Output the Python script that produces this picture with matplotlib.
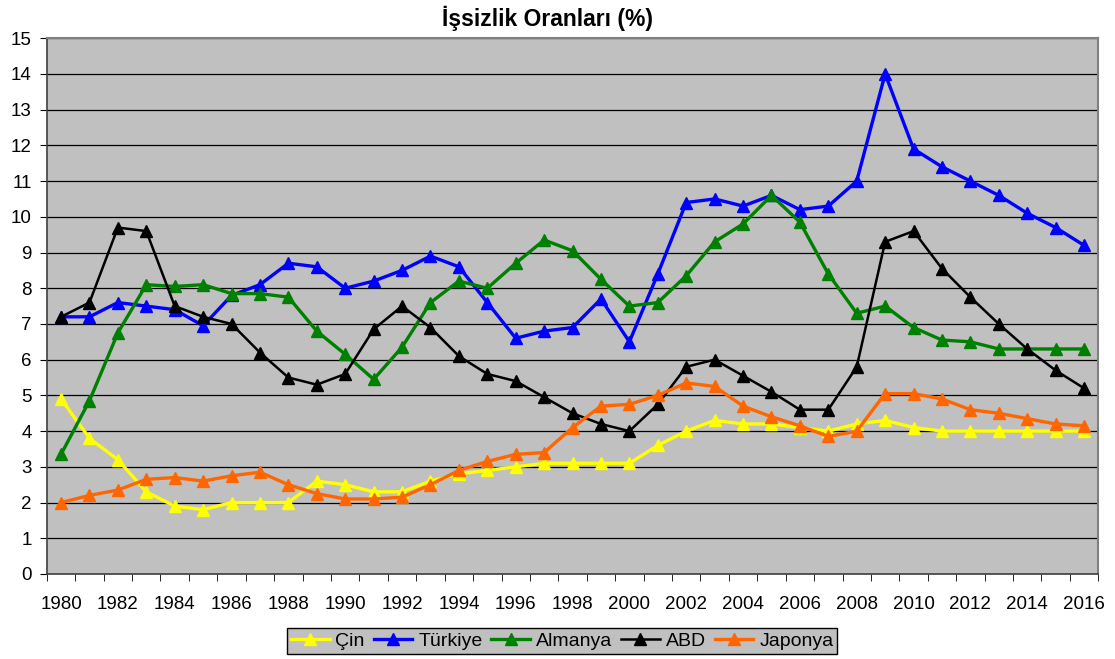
import numpy as np
import matplotlib.pyplot as plt

# ---------------- data ----------------
years = list(range(1980, 2017))

cin = [4.9, 3.8, 3.2, 2.3, 1.9, 1.8, 2.0, 2.0, 2.0, 2.6, 2.5, 2.3, 2.3, 2.6, 2.8,
       2.9, 3.0, 3.1, 3.1, 3.1, 3.1, 3.6, 4.0, 4.3, 4.2, 4.2, 4.1, 4.0, 4.2, 4.3,
       4.1, 4.0, 4.0, 4.0, 4.0, 4.0, 4.0]
turkiye = [7.2, 7.2, 7.6, 7.5, 7.4, 6.95, 7.8, 8.1, 8.7, 8.6, 8.0, 8.2, 8.5, 8.9, 8.6,
           7.6, 6.6, 6.8, 6.9, 7.7, 6.5, 8.4, 10.4, 10.5, 10.3, 10.6, 10.2, 10.3, 11.0,
           14.0, 11.9, 11.4, 11.0, 10.6, 10.1, 9.7, 9.2]
almanya = [3.35, 4.85, 6.75, 8.1, 8.05, 8.1, 7.85, 7.85, 7.75, 6.8, 6.15, 5.45, 6.35,
           7.6, 8.2, 8.0, 8.7, 9.35, 9.05, 8.25, 7.5, 7.6, 8.35, 9.3, 9.8, 10.6, 9.85,
           8.4, 7.3, 7.5, 6.9, 6.55, 6.5, 6.3, 6.3, 6.3, 6.3]
abd = [7.2, 7.6, 9.7, 9.6, 7.5, 7.2, 7.0, 6.2, 5.5, 5.3, 5.6, 6.85, 7.5, 6.9, 6.1,
       5.6, 5.4, 4.95, 4.5, 4.2, 4.0, 4.75, 5.8, 6.0, 5.55, 5.1, 4.6, 4.6, 5.8, 9.3,
       9.6, 8.55, 7.75, 7.0, 6.3, 5.7, 5.2]
japonya = [2.0, 2.2, 2.35, 2.65, 2.7, 2.6, 2.75, 2.85, 2.5, 2.25, 2.1, 2.1, 2.15, 2.5,
           2.9, 3.15, 3.35, 3.4, 4.1, 4.7, 4.75, 5.0, 5.35, 5.25, 4.7, 4.4, 4.15, 3.85,
           4.0, 5.05, 5.05, 4.9, 4.6, 4.5, 4.35, 4.2, 4.15]

series = [("Çin", cin, "#FFFF00", 2.4),
          ("Türkiye", turkiye, "#0000FF", 2.4),
          ("Almanya", almanya, "#008000", 2.4),
          ("ABD", abd, "#000000", 1.8),
          ("Japonya", japonya, "#FF6600", 2.4)]

plt.rcParams['font.family'] = ['Liberation Sans', 'DejaVu Sans']

fig = plt.figure(figsize=(11.15, 6.59), dpi=100)
ax = fig.add_axes([0.042, 0.129, 0.943, 0.813])
ax.set_facecolor("#C0C0C0")

for name, vals, col, lw in series:
    ax.plot(years, vals, color=col, lw=lw, marker="^", markersize=9,
            markeredgecolor=col, label=name, zorder=3)

ax.set_xlim(1979.5, 2016.5)
ax.set_ylim(0, 15)
ax.set_yticks(range(0, 16))
ax.yaxis.grid(True, color="black", lw=0.9, zorder=0)
ax.set_axisbelow(True)

# ticks between categories, labels every other year
ax.set_xticks(years[::2])
ax.set_xticks(np.arange(1979.5, 2017, 1), minor=True)
ax.tick_params(axis="x", which="major", length=0, labelsize=13.5, pad=16)
ax.tick_params(axis="x", which="minor", length=5, direction="out")
ax.tick_params(axis="y", length=5, labelsize=13.5, direction="out", pad=6)

for s in ["top", "right"]:
    ax.spines[s].set_color("#808080")
    ax.spines[s].set_linewidth(1.5)
for s in ["left", "bottom"]:
    ax.spines[s].set_color("#404040")
    ax.spines[s].set_linewidth(1.2)

fig.text(548 / 1115, 1 - 18 / 659, "İşsizlik Oranları (%)", fontsize=16.5,
         fontweight="bold", ha="center", va="center")

leg = ax.legend(loc="upper center", bbox_to_anchor=(0.49, -0.083), ncol=5,
                fontsize=14, frameon=True, fancybox=False, handlelength=2.0,
                handletextpad=0.3, columnspacing=0.45, borderpad=0.2)
leg.get_frame().set_facecolor("#C0C0C0")
leg.get_frame().set_edgecolor("black")
leg.get_frame().set_alpha(1)

fig.savefig("out.png", dpi=100)
